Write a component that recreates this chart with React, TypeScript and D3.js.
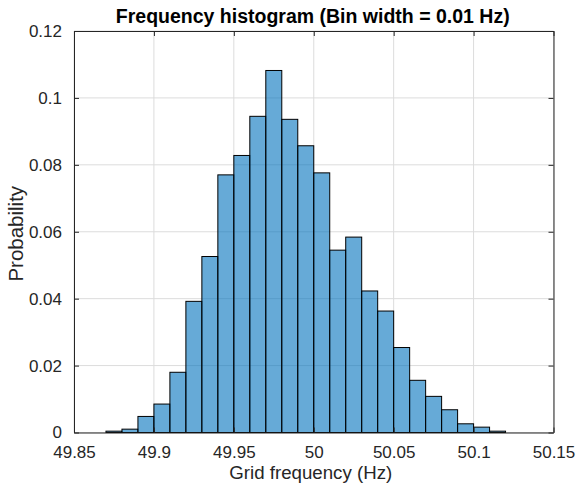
import React, { useRef, useEffect } from "react";
import * as d3 from "d3";

const WIDTH = 577;
const HEIGHT = 491;
const MARGIN = { top: 31, right: 23.5, bottom: 58.5, left: 74 };

// left edge of each 0.01 Hz bin
const BIN_STARTS = [
  49.87, 49.88, 49.89, 49.9, 49.91, 49.92, 49.93, 49.94, 49.95, 49.96, 49.97,
  49.98, 49.99, 50.0, 50.01, 50.02, 50.03, 50.04, 50.05, 50.06, 50.07, 50.08,
  50.09, 50.1, 50.11,
];
const PROBABILITY = [
  0.0004, 0.001, 0.0048, 0.0085, 0.018, 0.0392, 0.0526, 0.077, 0.0828, 0.0945,
  0.1082, 0.0936, 0.0857, 0.0776, 0.0545, 0.0584, 0.0423, 0.0363, 0.0254,
  0.0156, 0.0108, 0.0068, 0.0026, 0.0016, 0.0004,
];
const BIN_WIDTH = 0.01;

const X_TICKS = [49.85, 49.9, 49.95, 50, 50.05, 50.1, 50.15];
const Y_TICKS = [0, 0.02, 0.04, 0.06, 0.08, 0.1, 0.12];

const AXIS_COLOR = "#262626";
const GRID_COLOR = "#dcdcdc";
const FONT = "'Liberation Sans', Arial, Helvetica, sans-serif";

export default function App() {
  const svgRef = useRef<SVGSVGElement>(null);

  useEffect(() => {
    const svg = d3.select(svgRef.current);
    svg.selectAll("*").remove();

    const innerW = WIDTH - MARGIN.left - MARGIN.right;
    const innerH = HEIGHT - MARGIN.top - MARGIN.bottom;

    const x = d3.scaleLinear().domain([49.85, 50.15]).range([0, innerW]);
    const y = d3.scaleLinear().domain([0, 0.12]).range([innerH, 0]);

    const g = svg
      .append("g")
      .attr("transform", `translate(${MARGIN.left},${MARGIN.top})`);

    // grid
    g.append("g")
      .selectAll("line")
      .data(X_TICKS)
      .join("line")
      .attr("x1", (d) => x(d))
      .attr("x2", (d) => x(d))
      .attr("y1", 0)
      .attr("y2", innerH)
      .attr("stroke", GRID_COLOR)
      .attr("stroke-width", 1);
    g.append("g")
      .selectAll("line")
      .data(Y_TICKS)
      .join("line")
      .attr("x1", 0)
      .attr("x2", innerW)
      .attr("y1", (d) => y(d))
      .attr("y2", (d) => y(d))
      .attr("stroke", GRID_COLOR)
      .attr("stroke-width", 1);

    // bars
    const bins = BIN_STARTS.map((s, i) => ({ x0: s, x1: s + BIN_WIDTH, p: PROBABILITY[i] }));
    g.append("g")
      .selectAll("rect")
      .data(bins)
      .join("rect")
      .attr("x", (d) => x(d.x0))
      .attr("width", (d) => x(d.x1) - x(d.x0))
      .attr("y", (d) => y(d.p))
      .attr("height", (d) => y(0) - y(d.p))
      .attr("fill", "#0072BD")
      .attr("fill-opacity", 0.6)
      .attr("stroke", "#000")
      .attr("stroke-width", 1);

    // axes (ticks inward, box on)
    const tickFmt = (d: d3.NumberValue) => d3.format("~g")(+d);
    const styleAxis = (sel: d3.Selection<SVGGElement, unknown, null, undefined>) => {
      sel.select(".domain").attr("stroke", AXIS_COLOR);
      sel.selectAll(".tick line").attr("stroke", AXIS_COLOR);
      sel
        .selectAll(".tick text")
        .attr("fill", AXIS_COLOR)
        .attr("font-size", 17)
        .attr("font-family", FONT);
    };

    g.append("g")
      .attr("transform", `translate(0,${innerH})`)
      .call(
        d3.axisBottom(x).tickValues(X_TICKS).tickFormat(tickFmt).tickSizeInner(-5).tickSizeOuter(0).tickPadding(13)
      )
      .call(styleAxis);
    g.append("g")
      .call(d3.axisTop(x).tickValues(X_TICKS).tickFormat(() => "").tickSizeInner(-5).tickSizeOuter(0))
      .call(styleAxis);
    g.append("g")
      .call(
        d3.axisLeft(y).tickValues(Y_TICKS).tickFormat(tickFmt).tickSizeInner(-5).tickSizeOuter(0).tickPadding(12)
      )
      .call(styleAxis);
    g.append("g")
      .attr("transform", `translate(${innerW},0)`)
      .call(d3.axisRight(y).tickValues(Y_TICKS).tickFormat(() => "").tickSizeInner(-5).tickSizeOuter(0))
      .call(styleAxis);

    // labels
    svg
      .append("text")
      .attr("x", MARGIN.left + innerW / 2 - 3)
      .attr("y", 479)
      .attr("text-anchor", "middle")
      .attr("font-size", 18.7)
      .attr("font-family", FONT)
      .attr("fill", AXIS_COLOR)
      .text("Grid frequency (Hz)");

    svg
      .append("text")
      .attr("transform", `translate(23,${MARGIN.top + innerH / 2 + 2}) rotate(-90)`)
      .attr("text-anchor", "middle")
      .attr("font-size", 20.5)
      .attr("font-family", FONT)
      .attr("fill", AXIS_COLOR)
      .text("Probability");

    svg
      .append("text")
      .attr("x", MARGIN.left + innerW / 2 - 1)
      .attr("y", 23)
      .attr("text-anchor", "middle")
      .attr("font-size", 19.5)
      .attr("font-weight", "bold")
      .attr("font-family", FONT)
      .attr("fill", "#000")
      .text("Frequency histogram (Bin width = 0.01 Hz)");
  }, []);

  return (
    <div style={{ position: "absolute", left: 0, top: 0, background: "#fff" }}>
      <svg ref={svgRef} width={WIDTH} height={HEIGHT} style={{ display: "block" }} />
    </div>
  );
}
